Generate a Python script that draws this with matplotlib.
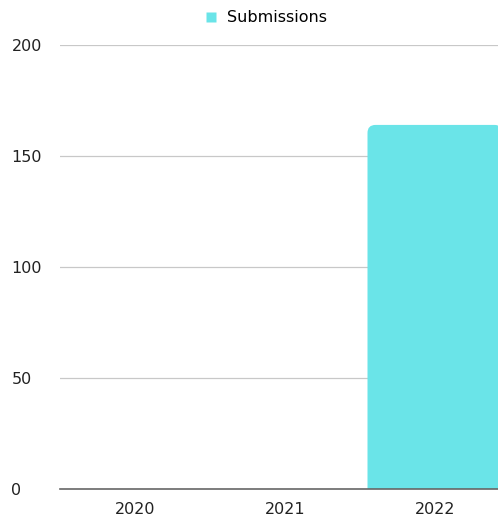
import numpy as np
import matplotlib.pyplot as plt
from matplotlib.patches import FancyBboxPatch
from matplotlib.lines import Line2D

plt.rcParams['font.family'] = ['DejaVu Sans']

years = ['2020', '2021', '2022']
submissions = [0, 0, 164]
y_ticks = [0, 50, 100, 150, 200]
bar_color = '#6ae4e8'

W, H = 498, 521
fig = plt.figure(figsize=(W / 100, H / 100), dpi=100)
ax = fig.add_axes([60 / W, 32 / H, 1 - 60 / W, 444 / H])

x = np.arange(len(years))
ax.set_xlim(-0.5, -0.5 + 438 / 150)
ax.set_ylim(0, 200)

# rounded top corners, bottom hidden under the axis
px_x = 1 / 150
px_y = 200 / 444
r = 8 * px_x
for xi, v in zip(x, submissions):
    if v <= 0:
        continue
    p = FancyBboxPatch((xi - 0.45, -20), 0.9, v + 20,
                       boxstyle=f"round,pad=0,rounding_size={r}",
                       mutation_aspect=px_y / px_x,
                       facecolor=bar_color, edgecolor='none', zorder=2)
    ax.add_patch(p)

for t in y_ticks[1:]:
    ax.axhline(t, color='#c8c8c8', linewidth=0.9, zorder=1)
ax.axhline(0, color='#666666', linewidth=1.2, zorder=3, clip_on=False)

for s in ax.spines.values():
    s.set_visible(False)
ax.set_xticks(x)
ax.set_xticklabels(years, fontsize=11.5, color='#222222')
ax.set_yticks(y_ticks)
ax.set_yticklabels([str(t) for t in y_ticks], fontsize=11.5, color='#222222', ha='left')
ax.tick_params(axis='both', length=0)
ax.tick_params(axis='y', pad=35)
ax.tick_params(axis='x', pad=9)

handle = Line2D([], [], marker='s', linestyle='none', markersize=7,
                markerfacecolor=bar_color, markeredgecolor='none')
fig.legend([handle], ['Submissions'], loc='center', bbox_to_anchor=(265 / W, 1 - 18 / H),
           frameon=False, fontsize=11.5, handletextpad=0.5, handlelength=1.0)

fig.savefig('out.png', dpi=100)
